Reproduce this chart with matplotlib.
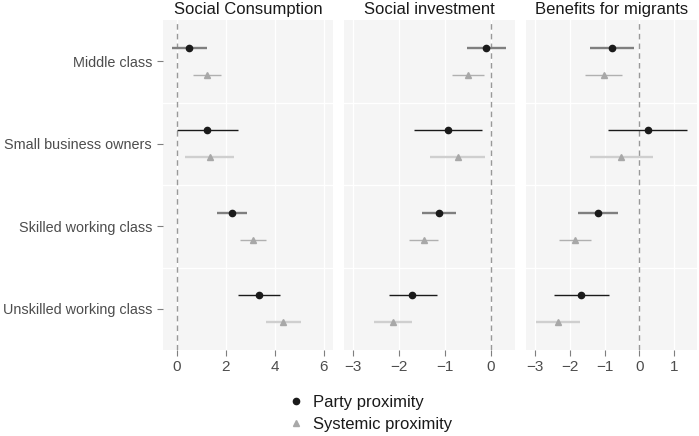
import matplotlib
matplotlib.use("Agg")
import matplotlib.pyplot as plt
from matplotlib.lines import Line2D
import numpy as np

plt.rcParams['font.family'] = ['Liberation Sans', 'DejaVu Sans']

categories = ["Middle class", "Small business owners", "Skilled working class", "Unskilled working class"]
panels = ["Social Consumption", "Social investment", "Benefits for migrants"]

# Party proximity: estimate, lower, upper
party_est = {
    "Social Consumption": [0.50, 1.24, 2.26, 3.36],
    "Social investment": [-0.10, -0.93, -1.12, -1.70],
    "Benefits for migrants": [-0.78, 0.24, -1.18, -1.67],
}
party_lo = {
    "Social Consumption": [-0.19, 0.03, 1.65, 2.51],
    "Social investment": [-0.51, -1.67, -1.49, -2.21],
    "Benefits for migrants": [-1.41, -0.89, -1.75, -2.45],
}
party_hi = {
    "Social Consumption": [1.22, 2.49, 2.88, 4.22],
    "Social investment": [0.33, -0.18, -0.75, -1.17],
    "Benefits for migrants": [-0.14, 1.38, -0.60, -0.88],
}
# Systemic proximity
sys_est = {
    "Social Consumption": [1.24, 1.34, 3.11, 4.35],
    "Social investment": [-0.49, -0.72, -1.46, -2.13],
    "Benefits for migrants": [-1.03, -0.53, -1.85, -2.34],
}
sys_lo = {
    "Social Consumption": [0.65, 0.32, 2.58, 3.65],
    "Social investment": [-0.84, -1.32, -1.77, -2.54],
    "Benefits for migrants": [-1.56, -1.43, -2.32, -2.97],
}
sys_hi = {
    "Social Consumption": [1.82, 2.35, 3.62, 5.07],
    "Social investment": [-0.14, -0.13, -1.15, -1.70],
    "Benefits for migrants": [-0.50, 0.38, -1.38, -1.71],
}

xticks = {
    "Social Consumption": [0, 2, 4, 6],
    "Social investment": [-3, -2, -1, 0],
    "Benefits for migrants": [-3, -2, -1, 0, 1],
}
xlims = {
    "Social Consumption": (-0.56, 6.37),
    "Social investment": (-3.19, 0.53),
    "Benefits for migrants": (-3.26, 1.66),
}

party_bar_col = ["#7f7f7f", "#1a1a1a", "#7f7f7f", "#1a1a1a"]
party_bar_lw = [1.7, 1.0, 1.7, 1.0]
sys_bar_col = ["#b0b0b0", "#cfcfcf", "#b0b0b0", "#cfcfcf"]
sys_bar_lw = [1.0, 1.7, 1.0, 1.7]

fig = plt.figure(figsize=(6.99, 4.36), dpi=100)
W, H = 699, 436
lefts = [163, 344, 526]
rights = [333, 515, 697]
top, bottom = 20, 350

ypos = np.arange(1, len(categories) + 1)
off = 0.166

for i, p in enumerate(panels):
    ax = fig.add_axes([lefts[i] / W, 1 - bottom / H, (rights[i] - lefts[i]) / W, (bottom - top) / H])
    ax.set_facecolor("#f5f5f5")
    for s in ax.spines.values():
        s.set_visible(False)
    ax.set_xlim(*xlims[p])
    ax.set_ylim(4.5, 0.5)
    for xt in xticks[p]:
        ax.axvline(xt, color="white", lw=1.0, zorder=0)
    for yb in [1.5, 2.5, 3.5]:
        ax.axhline(yb, color="white", lw=1.0, zorder=0)
    ax.axvline(0, color="#999999", lw=1.0, ls=(0, (4, 3)), zorder=1)
    for j in range(len(categories)):
        y1 = ypos[j] - off
        y2 = ypos[j] + off
        ax.plot([party_lo[p][j], party_hi[p][j]], [y1, y1], color=party_bar_col[j],
                lw=party_bar_lw[j], solid_capstyle="butt", zorder=2)
        ax.plot([party_est[p][j]], [y1], marker="o", ms=4.5, color="#1a1a1a", zorder=3)
        ax.plot([sys_lo[p][j], sys_hi[p][j]], [y2, y2], color=sys_bar_col[j],
                lw=sys_bar_lw[j], solid_capstyle="butt", zorder=2)
        ax.plot([sys_est[p][j]], [y2], marker="^", ms=5, color="#a8a8a8", zorder=3)
    ax.set_xticks(xticks[p])
    ax.set_xticklabels([("\u2212" + str(abs(v))) if v < 0 else str(v) for v in xticks[p]])
    ax.tick_params(axis="x", colors="#7f7f7f", labelcolor="#4d4d4d", labelsize=11, length=4, width=0.8, pad=3)
    ax.set_yticks(ypos)
    if i == 0:
        ax.set_yticklabels(categories)
        ax.tick_params(axis="y", colors="#7f7f7f", labelcolor="#4d4d4d", labelsize=10.4, length=4, width=0.8, pad=4)
    else:
        ax.set_yticklabels([])
        ax.tick_params(axis="y", length=0)
    ax.set_title(p, fontsize=12, color="#1a1a1a", pad=4)

handles = [
    Line2D([], [], marker="o", ls="none", color="#1a1a1a", ms=4.5),
    Line2D([], [], marker="^", ls="none", color="#a8a8a8", ms=5),
]
fig.legend(handles, ["Party proximity", "Systemic proximity"], loc="center",
           bbox_to_anchor=(370 / W, 1 - 413.5 / H), frameon=False, fontsize=12,
           handletextpad=0.5, labelspacing=0.45, handlelength=1.0, labelcolor="#1a1a1a")

fig.savefig("out.png", dpi=100)
